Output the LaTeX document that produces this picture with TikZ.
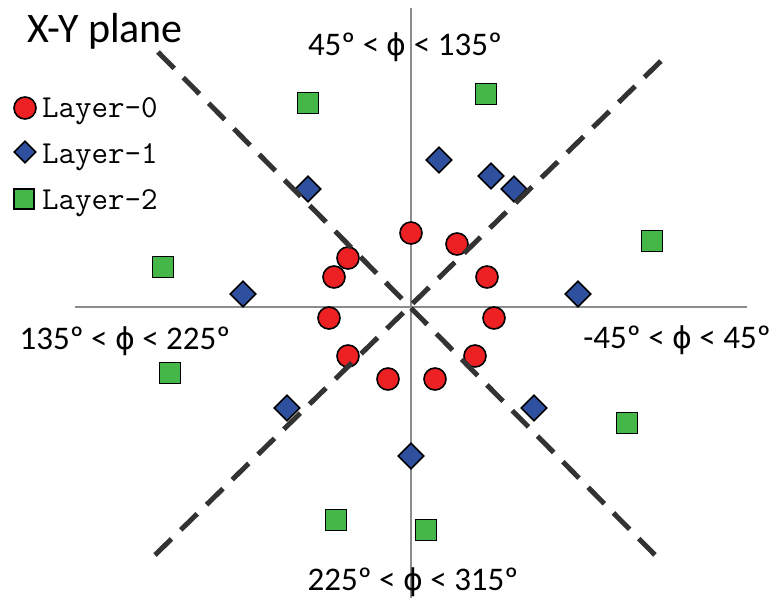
\documentclass[tikz,border=0pt]{standalone}
\usepackage{fontspec}
\setmainfont{Carlito}
\newfontfamily\phifont{DejaVu Sans}
\usetikzlibrary{shapes.geometric}
\definecolor{hitred}{RGB}{237,32,36}
\definecolor{hitblue}{RGB}{47,79,159}
\definecolor{hitgreen}{RGB}{68,183,72}
\newcommand{\angphi}{{\phifont\fontsize{30}{36}\selectfont ϕ}}
\tikzset{
  hitzero/.style={circle,draw=black,line width=1.6pt,fill=hitred,minimum size=22pt,inner sep=0pt},
  hitone/.style={diamond,draw=black,line width=1.6pt,fill=hitblue,minimum size=26pt,inner sep=0pt},
  hittwo/.style={rectangle,draw=black,line width=1.6pt,fill=hitgreen,minimum size=21pt,inner sep=0pt},
  sector/.style={font=\fontsize{33}{38}\selectfont,anchor=base,inner sep=0pt},
  legtext/.style={font=\ttfamily\fontsize{32}{36}\selectfont,anchor=base west,inner sep=0pt},
  axis/.style={draw=black!45,line width=1.3pt},
  cut/.style={draw=black!80,line width=5pt,dash pattern=on 23pt off 13pt}
}

\begin{document}
\begin{tikzpicture}[x=1pt,y=-1pt]
  \useasboundingbox (0,0) rectangle (775,598);
  \coordinate (o) at (411,307);
  % axes
  \draw[axis] (75,307) -- (747,307);
  \draw[axis] (411,8) -- (411,598);
  % hits
  \foreach \x/\y [count=\i] in {411/233,457/244,348/258,334/277,487/277,329/318,494/318,348/356,475/356,388/379,435/379}
    \node[hitzero] (r\i) at (\x,\y) {};
  \foreach \x/\y [count=\i] in {439/160,491/176,514/189,308/189,243/294,578/294,287/408,534/408,411/456}
    \node[hitone] (b\i) at (\x,\y) {};
  \foreach \x/\y [count=\i] in {308/103,486/94,652/241,163/267,170/373,627/423,336/520,426/530}
    \node[hittwo] (g\i) at (\x,\y) {};
  % sector boundaries
  \draw[cut] (158,52) -- (655,555);
  \draw[cut] (155,555) -- (662,60);
  % labels
  \node[font=\fontsize{42}{48}\selectfont,anchor=base west,inner sep=0pt] (title) at (27,42) {X-Y plane};
  \node[sector] (top) at (405,55) {45º < \angphi{} < 135º};
  \node[sector] (left) at (125,349) {135º < \angphi{} < 225º};
  \node[sector] (right) at (677,348) {-45º < \angphi{} < 45º};
  \node[sector] (bottom) at (413,590) {225º < \angphi{} < 315º};
  % legend
  \node[hitzero] (k0) at (25,108) {};
  \node[hitone,minimum size=22pt] (k1) at (25,152) {};
  \node[hittwo,minimum size=20pt] (k2) at (24,199) {};
  \node[legtext] (t0) at (42,117) {Layer-0};
  \node[legtext] (t1) at (42,163) {Layer-1};
  \node[legtext] (t2) at (42,209) {Layer-2};
\end{tikzpicture}
\end{document}
